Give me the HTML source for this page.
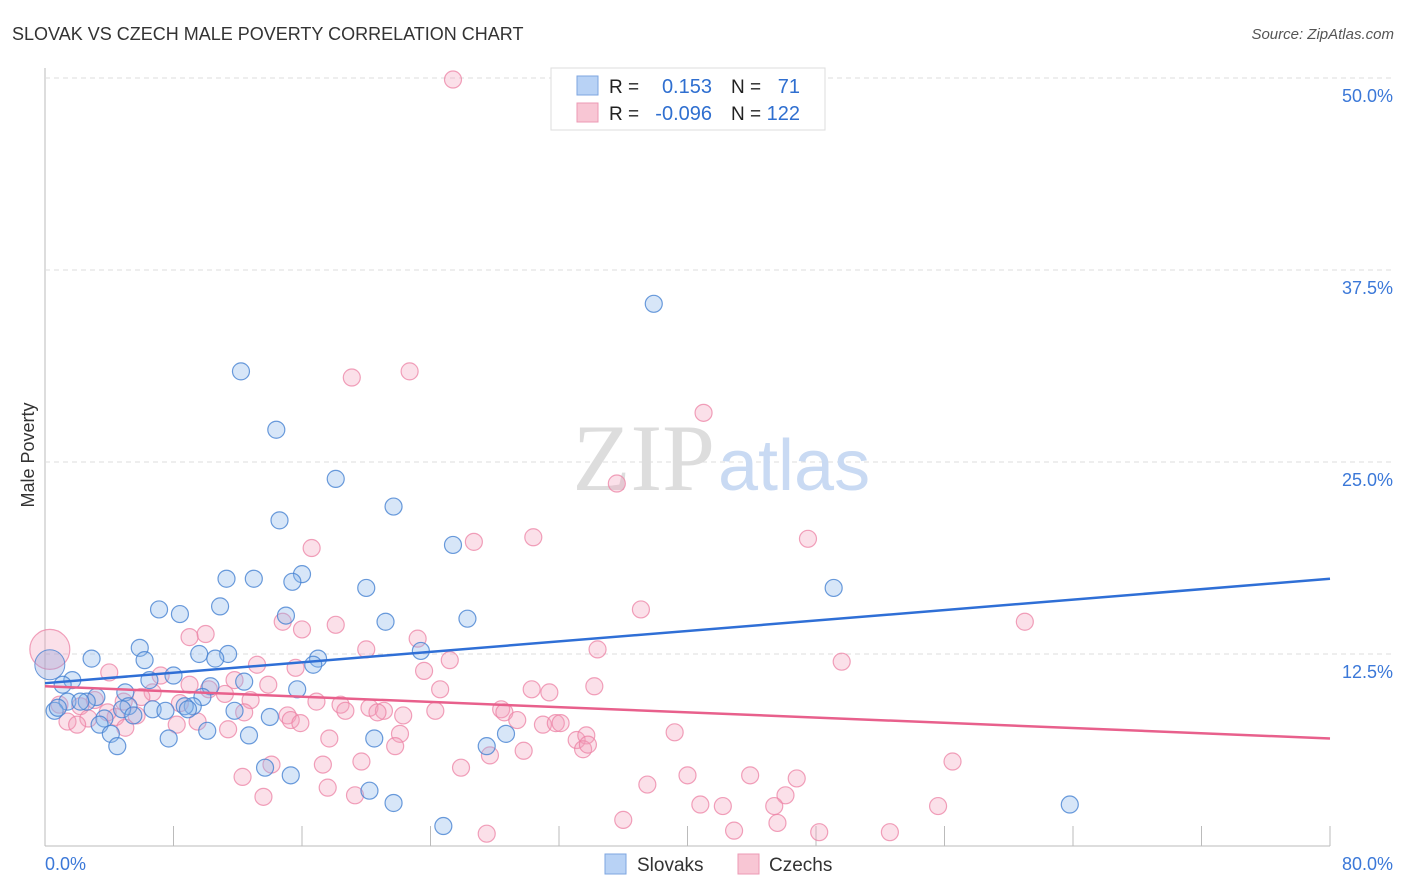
<!DOCTYPE html>
<html><head><meta charset="utf-8"><style>
body{margin:0;background:#fff;font-family:"Liberation Sans",sans-serif}
svg{display:block}
</style></head><body>
<svg id="c" width="1406" height="892">
<text x="12" y="40" font-size="18" fill="#333">SLOVAK VS CZECH MALE POVERTY CORRELATION CHART</text>
<text x="1394" y="39" font-size="15" fill="#555" font-style="italic" text-anchor="end">Source: ZipAtlas.com</text>
<text x="-455" y="34" transform="rotate(-90)" font-size="18" fill="#333" text-anchor="middle">Male Poverty</text>
<g id="grid"></g>
<text x="715" y="490" font-size="95" fill="#ddd" text-anchor="end" font-family="Liberation Serif">ZIP</text>
<text x="718" y="490" font-size="72" fill="#c9daf3">atlas</text>
<g id="pts"></g>
<g id="lines"></g>
<g>
<rect x="551" y="68" width="274" height="62" fill="#fff" stroke="#ddd"/>
<rect x="577" y="76" width="21" height="19" fill="#b8d2f5" stroke="#7ea6e0"/>
<rect x="577" y="103" width="21" height="19" fill="#f8c6d4" stroke="#ec9ab4"/>
<text x="609" y="93" font-size="19" fill="#222">R =</text><text x="712" y="93" font-size="20" fill="#2f6fd0" text-anchor="end">0.153</text>
<text x="731" y="93" font-size="19" fill="#222">N =</text><text x="800" y="93" font-size="20" fill="#2f6fd0" text-anchor="end">71</text>
<text x="609" y="120" font-size="19" fill="#222">R =</text><text x="712" y="120" font-size="20" fill="#2f6fd0" text-anchor="end">-0.096</text>
<text x="731" y="120" font-size="19" fill="#222">N =</text><text x="800" y="120" font-size="20" fill="#2f6fd0" text-anchor="end">122</text>
</g>
<g>
<rect x="605" y="854" width="21" height="20" fill="#b8d2f5" stroke="#7ea6e0"/>
<text x="637" y="871" font-size="19" fill="#333">Slovaks</text>
<rect x="738" y="854" width="21" height="20" fill="#f8c6d4" stroke="#ec9ab4"/>
<text x="769" y="871" font-size="19" fill="#333">Czechs</text>
</g>
<text x="45" y="870" font-size="18" fill="#3b78d8">0.0%</text>
<text x="1393" y="870" font-size="18" fill="#3b78d8" text-anchor="end">80.0%</text>
</svg>
<script>
const yTicks=[12.5,25,37.5,50];
const yTickLabels=["12.5%","25.0%","37.5%","50.0%"];
const blueX=[37.9,12.2,14.4,18.1,21.7,14.6,25.4,16.0,15.4,11.3,13.0,20.0,49.1,7.1,8.4,10.9,15.0,26.3,21.2,5.9,2.9,6.2,9.6,11.4,10.6,17.0,16.7,23.4,1.7,1.1,6.5,8.0,12.4,10.3,15.7,5.0,3.2,1.4,2.6,9.8,5.2,9.2,2.2,0.6,0.8,6.7,8.7,8.9,4.8,5.5,11.8,7.5,3.7,3.4,14.0,10.1,4.1,12.7,20.5,7.7,4.5,27.5,28.7,13.7,15.3,20.2,21.7,63.8,24.8];
const blueY=[35.3,30.9,27.1,23.9,22.1,21.2,19.6,17.7,17.2,17.4,17.4,16.8,16.8,15.4,15.1,15.6,15.0,14.8,14.6,12.9,12.2,12.1,12.5,12.5,12.2,12.2,11.8,12.7,10.8,10.5,10.8,11.1,10.7,10.4,10.2,10.0,9.7,9.4,9.4,9.7,9.1,9.1,9.4,8.8,9.0,8.9,9.1,8.9,8.9,8.5,8.8,8.8,8.3,7.9,8.4,7.5,7.3,7.2,7.0,7.0,6.5,6.5,7.3,5.1,4.6,3.6,2.8,2.7,1.3];
const pinkX=[25.4,19.1,22.7,41.0,35.6,26.7,30.4,47.5,16.6,37.1,61.0,10.0,9.0,14.8,16.0,18.1,23.2,20.0,34.4,25.2,23.6,15.6,13.2,49.6,4.0,7.2,11.8,9.0,10.2,13.9,6.7,24.6,30.3,31.4,34.2,16.9,11.2,4.9,6.0,8.4,3.1,2.2,0.9,12.8,18.4,20.2,18.7,21.1,22.3,24.3,28.4,28.6,29.4,20.7,31.0,31.8,32.1,15.1,15.3,15.9,12.4,9.5,11.4,8.2,4.4,2.7,3.9,1.4,2.0,5.0,5.7,17.7,22.1,33.1,33.7,33.5,33.8,39.2,21.8,29.8,27.7,19.7,17.3,25.9,12.3,14.1,43.9,46.8,40.0,17.6,19.3,13.6,37.5,46.1,40.8,42.2,45.4,55.6,56.5,36.0,45.6,42.9,48.2,52.6,27.5,0.3];
const pinkY=[49.9,30.5,30.9,28.2,23.6,19.8,20.1,20.0,19.4,15.4,14.6,13.8,13.6,14.6,14.1,14.4,13.5,12.8,12.8,12.1,11.4,11.6,11.8,12.0,11.3,11.1,10.8,10.5,10.2,10.5,10.0,10.2,10.2,10.0,10.4,9.4,9.9,9.4,9.7,9.3,9.5,9.1,9.2,9.5,9.2,9.0,8.8,8.8,8.5,8.8,8.9,8.7,8.2,8.7,7.9,8.0,8.0,8.5,8.2,8.0,8.7,8.1,7.6,7.9,8.4,8.3,8.7,8.1,7.9,7.7,8.5,7.0,7.3,6.9,7.2,6.3,6.6,7.4,6.5,6.2,5.9,5.5,5.3,5.1,4.5,5.3,4.6,4.4,4.6,3.8,3.3,3.2,4.0,3.3,2.7,2.6,2.6,2.6,5.5,1.7,1.5,1.0,0.9,0.9,0.8,12.8];
const blueTrend=[[0,10.6],[80,17.4]];
const pinkTrend=[[0,10.4],[80,7.0]];
const X=v=>45+v/80*1285, Y=v=>846-v/12.5*192;
const NS="http://www.w3.org/2000/svg";
function mk(t,a,p){const e=document.createElementNS(NS,t);for(const k in a)e.setAttribute(k,a[k]);p.appendChild(e);return e;}
const grid=document.getElementById('grid');
mk('line',{x1:45,y1:68,x2:45,y2:846,stroke:'#bbb'},grid);
mk('line',{x1:45,y1:846,x2:1330,y2:846,stroke:'#bbb'},grid);
for(let i=0;i<=10;i++){const x=45+i*128.5;mk('line',{x1:x,y1:826,x2:x,y2:846,stroke:'#bbb'},grid);}
yTicks.forEach((t,i)=>{
 const l=mk('line',{x1:45,y1:Y(t),x2:1393,y2:Y(t),stroke:'#ddd','stroke-dasharray':'5,4'},grid);
 
 
 const tx=mk('text',{x:1393,y:Y(t)+24,'font-size':18,fill:'#3b78d8','text-anchor':'end'},grid);
 tx.textContent=yTickLabels[i];
 
 
});
const pts=document.getElementById('pts');
pinkX.forEach((v,i)=>{const big=i===pinkX.length-1;const c=mk('circle',{cx:X(v),cy:Y(pinkY[i]),r:big?20:8.5,fill:'rgba(244,160,186,0.32)',stroke:'rgba(236,130,164,0.75)','stroke-width':1.2},pts);
 
 });
blueX.forEach((v,i)=>{const c=mk('circle',{cx:X(v),cy:Y(blueY[i]),r:8.5,fill:'rgba(140,182,236,0.35)',stroke:'rgba(70,130,210,0.8)','stroke-width':1.2},pts);
 
 });
const bigB=mk('circle',{cx:X(0.3),cy:Y(11.8),r:15,fill:'rgba(140,160,220,0.35)',stroke:'rgba(70,130,210,0.8)'},pts);


const lines=document.getElementById('lines');
const bl=mk('line',{x1:X(blueTrend[0][0]),y1:Y(blueTrend[0][1]),x2:X(blueTrend[1][0]),y2:Y(blueTrend[1][1]),stroke:'#2f6fd6','stroke-width':2.5},lines);


const pl=mk('line',{x1:X(pinkTrend[0][0]),y1:Y(pinkTrend[0][1]),x2:X(pinkTrend[1][0]),y2:Y(pinkTrend[1][1]),stroke:'#e8608c','stroke-width':2.5},lines);


</script>
</body></html>
